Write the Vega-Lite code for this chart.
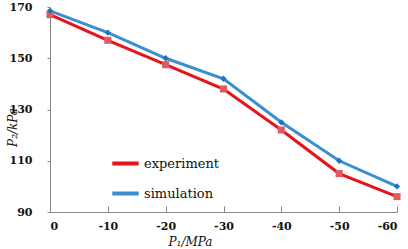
{
  "$schema": "https://vega.github.io/schema/vega-lite/v6.json",
  "width": 347,
  "height": 205,
  "autosize": {"type": "none"},
  "padding": {"left": 50, "top": 7, "right": 11, "bottom": 37},
  "background": "white",
  "config": {
    "view": {"stroke": null},
    "font": "DejaVu Serif",
    "style": {"guide-label": {"font": "DejaVu Serif"}, "guide-title": {"font": "DejaVu Serif"}},
    "legend": {"labelFont": "DejaVu Serif", "labelFontSize": 13, "labelColor": "#111"}
  },
  "data": {
    "values": [
      {"p1": 0, "p2": 167, "series": "experiment"},
      {"p1": -10, "p2": 157, "series": "experiment"},
      {"p1": -20, "p2": 147.5, "series": "experiment"},
      {"p1": -30, "p2": 138, "series": "experiment"},
      {"p1": -40, "p2": 122, "series": "experiment"},
      {"p1": -50, "p2": 105, "series": "experiment"},
      {"p1": -60, "p2": 96, "series": "experiment"},
      {"p1": 0, "p2": 168.5, "series": "simulation"},
      {"p1": -10, "p2": 160, "series": "simulation"},
      {"p1": -20, "p2": 150, "series": "simulation"},
      {"p1": -30, "p2": 142, "series": "simulation"},
      {"p1": -40, "p2": 125, "series": "simulation"},
      {"p1": -50, "p2": 110, "series": "simulation"},
      {"p1": -60, "p2": 100, "series": "simulation"}
    ]
  },
  "encoding": {
    "x": {
      "field": "p1", "type": "quantitative",
      "scale": {"domain": [0, -60], "nice": false, "zero": false},
      "axis": {
        "values": [0, -10, -20, -30, -40, -50, -60],
        "labelExpr": "replace(datum.label, '−', '-')",
        "title": "P₁/MPa", "titleFont": "DejaVu Serif", "titleFontStyle": "italic",
        "titleFontWeight": "normal", "titleFontSize": 12, "titleColor": "#111",
        "titleX": 140, "titleY": 24, "titleBaseline": "top",
        "labelFont": "DejaVu Serif", "labelFontSize": 11, "labelColor": "#111",
        "labelPadding": 14, "labelFontWeight": "bold",
        "domainColor": "#888", "tickColor": "#888", "tickSize": -6, "grid": false
      }
    },
    "y": {
      "field": "p2", "type": "quantitative",
      "scale": {"domain": [90, 170], "nice": false, "zero": false},
      "axis": {
        "values": [90, 110, 130, 150, 170],
        "title": "P₂/kPa", "titleFont": "DejaVu Serif", "titleFontStyle": "italic",
        "titleFontWeight": "normal", "titleFontSize": 12, "titleColor": "#111",
        "titleX": -31, "titleY": 120,
        "labelFont": "DejaVu Serif", "labelFontSize": 11, "labelColor": "#111",
        "labelPadding": 15, "labelFontWeight": "bold",
        "domainColor": "#888", "tickColor": "#888", "tickSize": 3, "grid": false
      }
    }
  },
  "layer": [
    {
      "mark": {"type": "line", "strokeWidth": 3},
      "encoding": {
        "color": {
          "field": "series", "type": "nominal",
          "scale": {"domain": ["experiment", "simulation"], "range": ["#e8121a", "#3b8ed0"]},
          "legend": {
            "title": null, "orient": "none", "legendX": 60, "legendY": 141,
            "symbolType": "stroke", "symbolSize": 700, "symbolStrokeWidth": 4,
            "labelFont": "DejaVu Serif", "labelFontSize": 13, "labelColor": "#111",
            "rowPadding": 6, "labelOffset": 3
          }
        }
      }
    },
    {
      "transform": [{"filter": "datum.series === 'experiment'"}],
      "mark": {"type": "point", "filled": true, "opacity": 1, "size": 50, "shape": "square", "color": "#e05a5e"}
    },
    {
      "transform": [{"filter": "datum.series === 'simulation'"}],
      "mark": {"type": "point", "filled": true, "opacity": 1, "size": 40, "shape": "diamond", "color": "#1f72bb"}
    }
  ]
}
